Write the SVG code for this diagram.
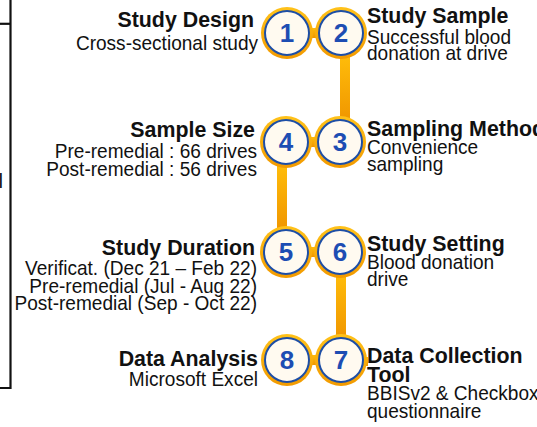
<svg xmlns="http://www.w3.org/2000/svg" width="537" height="427" viewBox="0 0 537 427">
  <style>
    .title { font-family: "Liberation Sans", Arial, sans-serif; font-weight: bold; font-size: 22.5px; fill: #111; }
    .sub { font-family: "Liberation Sans", Arial, sans-serif; font-size: 20.5px; fill: #111; }
    .left { text-anchor: end; }
    .num { font-family: "Liberation Sans", Arial, sans-serif; font-weight: bold; font-size: 26px; fill: #1d4db3; text-anchor: middle; }
    .ring { fill: url(#ringGrad); }
    .face { fill: #fffaf0; stroke: #1d4ea6; stroke-width: 2; }
    .bar { fill: url(#barGrad); }
    .frame { stroke: #111; stroke-width: 2.2; fill: none; }
  </style>
  <defs>
    <linearGradient id="ringGrad" x1="0" y1="0" x2="0" y2="1">
      <stop offset="0" stop-color="#ffc21a"/>
      <stop offset="1" stop-color="#f29a00"/>
    </linearGradient>
    <linearGradient id="barGrad" x1="0" y1="0" x2="0" y2="1">
      <stop offset="0" stop-color="#ffbd0a"/>
      <stop offset="1" stop-color="#f09600"/>
    </linearGradient>
    <g id="badge">
      <circle class="ring" r="26"/>
      <circle class="face" r="22"/>
    </g>
  </defs>

  <!-- left bracket frame -->
  <g id="frame">
    <path class="frame" d="M10.5 0 V388 H0"/>
    <path class="frame" d="M0 23.8 H10.5"/>
    <text class="sub left" x="3" y="188" font-size="22">l</text>
  </g>

  <!-- connectors between steps -->
  <g id="connectors">
    <rect class="bar" x="340" y="55" width="10" height="66"/>
    <rect class="bar" x="277" y="164" width="10" height="66"/>
    <rect class="bar" x="336" y="273" width="10" height="66"/>
    <rect class="bar" x="287" y="28" width="54" height="10"/>
    <rect class="bar" x="287" y="137" width="54" height="10"/>
    <rect class="bar" x="287" y="247" width="54" height="10"/>
    <rect class="bar" x="287" y="355" width="54" height="10"/>
    <rect class="bar" x="341" y="357" width="27" height="9"/>
  </g>

  <!-- labels are drawn slightly condensed horizontally -->
  <g id="step1">
    <use href="#badge" x="287" y="33"/>
    <text class="num" x="287" y="42">1</text>
    <text class="title left" transform="translate(254 27) scale(0.95 1)">Study Design</text>
    <text class="sub left" transform="translate(258 50) scale(0.93 1)">Cross-sectional study</text>
  </g>

  <g id="step2">
    <use href="#badge" x="341" y="33"/>
    <text class="num" x="341" y="42">2</text>
    <text class="title" transform="translate(367 23) scale(0.95 1)">Study Sample</text>
    <text class="sub" transform="translate(367 44) scale(0.93 1)">Successful blood</text>
    <text class="sub" transform="translate(367 60) scale(0.93 1)">donation at drive</text>
  </g>

  <g id="step3">
    <use href="#badge" x="340" y="142"/>
    <text class="num" x="340" y="151">3</text>
    <text class="title" transform="translate(367 136) scale(0.95 1)">Sampling Method</text>
    <text class="sub" transform="translate(367 154) scale(0.93 1)">Convenience</text>
    <text class="sub" transform="translate(367 171) scale(0.93 1)">sampling</text>
  </g>

  <g id="step4">
    <use href="#badge" x="286" y="142"/>
    <text class="num" x="286" y="151">4</text>
    <text class="title left" transform="translate(255 137) scale(0.95 1)">Sample Size</text>
    <text class="sub left" transform="translate(257 158) scale(0.93 1)">Pre-remedial : 66 drives</text>
    <text class="sub left" transform="translate(257 176) scale(0.93 1)">Post-remedial : 56 drives</text>
  </g>

  <g id="step5">
    <use href="#badge" x="286" y="252"/>
    <text class="num" x="286" y="261">5</text>
    <text class="title left" transform="translate(255 255) scale(0.95 1)">Study Duration</text>
    <text class="sub left" transform="translate(257 275) scale(0.93 1)">Verificat. (Dec 21 – Feb 22)</text>
    <text class="sub left" transform="translate(257 292.5) scale(0.93 1)">Pre-remedial (Jul - Aug 22)</text>
    <text class="sub left" transform="translate(257 310) scale(0.93 1)">Post-remedial (Sep - Oct 22)</text>
  </g>

  <g id="step6">
    <use href="#badge" x="340" y="252"/>
    <text class="num" x="340" y="261">6</text>
    <text class="title" transform="translate(367 251) scale(0.95 1)">Study Setting</text>
    <text class="sub" transform="translate(367 269) scale(0.93 1)">Blood donation</text>
    <text class="sub" transform="translate(367 286) scale(0.93 1)">drive</text>
  </g>

  <g id="step7">
    <use href="#badge" x="341" y="360"/>
    <text class="num" x="341" y="369">7</text>
    <text class="title" transform="translate(367 363) scale(0.95 1)">Data Collection</text>
    <text class="title" transform="translate(367 382) scale(0.95 1)">Tool</text>
    <text class="sub" transform="translate(367 400) scale(0.93 1)">BBISv2 &amp; Checkbox</text>
    <text class="sub" transform="translate(367 418) scale(0.93 1)">questionnaire</text>
  </g>

  <g id="step8">
    <use href="#badge" x="287" y="360"/>
    <text class="num" x="287" y="369">8</text>
    <text class="title left" transform="translate(258 366) scale(0.95 1)">Data Analysis</text>
    <text class="sub left" transform="translate(258 386) scale(0.93 1)">Microsoft Excel</text>
  </g>
</svg>
